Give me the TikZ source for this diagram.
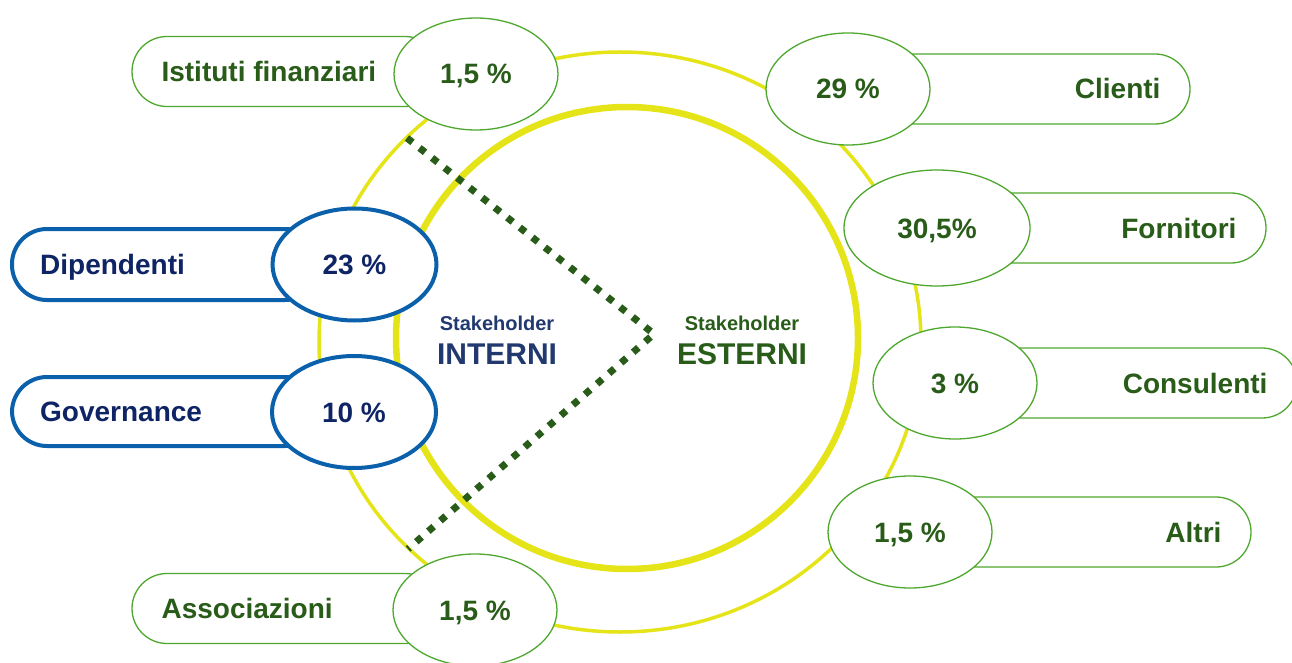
\documentclass[tikz,border=0pt]{standalone}
\usepackage{fontspec}
\setmainfont{Liberation Sans}
\usetikzlibrary{shapes.geometric}
\definecolor{sgreen}{RGB}{78,167,46}
\definecolor{tgreen}{RGB}{40,92,24}
\definecolor{sblue}{RGB}{10,96,170}
\definecolor{tblue}{RGB}{14,36,100}
\definecolor{iblue}{RGB}{33,57,110}
\definecolor{syellow}{RGB}{228,228,24}
\tikzset{
  shnode/.style = {align=center, inner sep=0pt, text height=20pt, text depth=0pt, font=\fontsize{28}{30}\selectfont\bfseries},
  pnode/.style = {shnode, ellipse, draw=sgreen, fill=white, line width=1.3pt, minimum width=164pt, minimum height=112pt, text=tgreen},
  bpnode/.style = {pnode, draw=sblue, line width=4pt, text=tblue},
  lbox/.style = {rectangle, rounded corners=35pt, draw=sgreen, fill=white, line width=1.3pt, minimum height=70pt, inner sep=0pt},
  blbox/.style = {lbox, draw=sblue, line width=4pt},
  ltxt/.style = {shnode, text=tgreen},
  bltxt/.style = {shnode, text=tblue},
  ctxt/.style = {shnode, text height=14pt, font=\fontsize{20}{22}\selectfont\bfseries},
  cbig/.style = {shnode, text height=22pt, font=\fontsize{30}{32}\selectfont\bfseries},
}
\begin{document}
\begin{tikzpicture}[x=1pt,y=-1pt]
\useasboundingbox (0,0) rectangle (1292,663);
\draw[syellow, line width=3.5pt] (620,342) ellipse [x radius=301, y radius=290];
\draw[syellow, line width=6.5pt] (627,338) circle [radius=231];

\node [lbox, minimum width=308pt] (IFb) at (286,71.5) {};
\node [lbox, minimum width=340pt] (CLb) at (1020,89) {};
\node [lbox, minimum width=336pt] (FOb) at (1098,228) {};
\node [lbox, minimum width=347pt] (COb) at (1123.5,383) {};
\node [lbox, minimum width=351pt] (ALb) at (1075.5,532) {};
\node [lbox, minimum width=308pt] (ASb) at (286,608.5) {};
\node [blbox, minimum width=308pt, minimum height=71pt] (DIb) at (166,264.5) {};
\node [blbox, minimum width=308pt, minimum height=69pt] (GOb) at (166,411.5) {};

\node [ltxt, anchor=west] (IFt) at ([xshift=30pt]IFb.west) {Istituti finanziari};
\node [ltxt, anchor=west] (ASt) at ([xshift=30pt]ASb.west) {Associazioni};
\node [bltxt, anchor=west] (DIt) at ([xshift=30pt]DIb.west) {Dipendenti};
\node [bltxt, anchor=west] (GOt) at ([xshift=30pt]GOb.west) {Governance};
\node [ltxt, anchor=east] (CLt) at ([xshift=-30pt]CLb.east) {Clienti};
\node [ltxt, anchor=east] (FOt) at ([xshift=-30pt]FOb.east) {Fornitori};
\node [ltxt, anchor=east] (COt) at ([xshift=-30pt]COb.east) {Consulenti};
\node [ltxt, anchor=east] (ALt) at ([xshift=-30pt]ALb.east) {Altri};

\node [pnode] (IFp) at (476,74) {1,5 \%};
\node [pnode] (CLp) at (848,89) {29 \%};
\node [pnode, minimum width=186pt, minimum height=116pt] (FOp) at (937,228) {30,5\%};
\node [pnode] (COp) at (955,383) {3 \%};
\node [pnode] (ALp) at (910,532) {1,5 \%};
\node [pnode] (ASp) at (475,610) {1,5 \%};
\node [bpnode] (DIp) at (354.5,264.5) {23 \%};
\node [bpnode] (GOp) at (354,412) {10 \%};

\node [ctxt, text=iblue] (SHi) at (497,323) {Stakeholder};
\node [cbig, text=iblue] (INT) at (497,353) {INTERNI};
\node [ctxt, text=tgreen] (SHe) at (742,323) {Stakeholder};
\node [cbig, text=tgreen] (EST) at (742,353) {ESTERNI};

\coordinate (D1) at (407,138);
\coordinate (DV) at (654,334);
\coordinate (D2) at (408,549);
\draw[tgreen, line width=7pt, dash pattern=on 7pt off 9pt] (D1) -- (DV) -- (D2);
\end{tikzpicture}
\end{document}
